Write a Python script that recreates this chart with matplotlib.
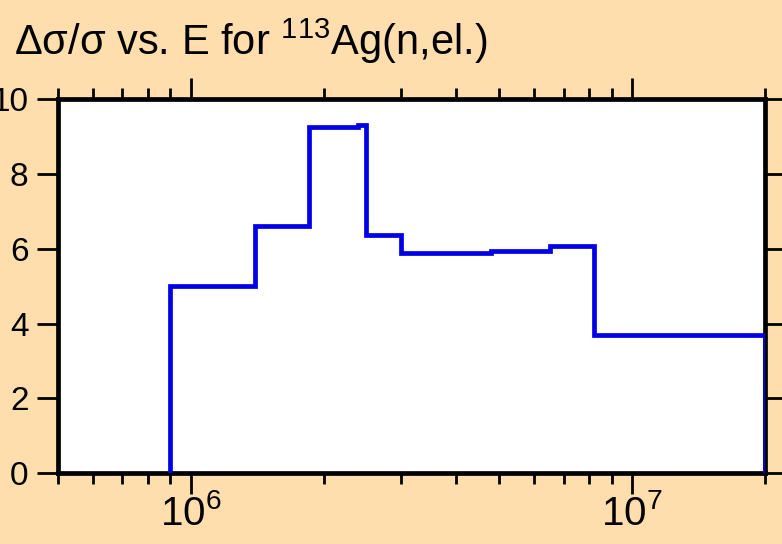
import numpy as np
import matplotlib
matplotlib.use("Agg")
import matplotlib.pyplot as plt
from matplotlib.ticker import LogLocator, FixedLocator, NullFormatter

plt.rcParams.update({
    'font.family': ['Liberation Sans', 'DejaVu Sans'],
    'mathtext.fontset': 'custom',
    'mathtext.rm': 'Liberation Sans',
    'mathtext.it': 'Liberation Sans:italic',
    'mathtext.default': 'regular',
})

# group boundaries (eV) and relative uncertainty (%)
energy_edges = [9.0e5, 1.4e6, 1.85e6, 2.4e6, 2.5e6, 3.0e6, 4.8e6, 6.5e6, 8.2e6, 2.0e7]
rel_unc = [5.0, 6.62, 9.26, 9.30, 6.36, 5.89, 5.95, 6.08, 3.69]
y_ticks = [0, 2, 4, 6, 8, 10]

BG = '#FFDEAD'

fig = plt.figure(figsize=(7.82, 5.44), dpi=100, facecolor=BG)
ax = fig.add_axes([0.0738, 0.130, 0.9045, 0.688])
ax.set_facecolor('white')

ax.stairs(rel_unc, energy_edges, baseline=0, fill=False,
          color='#0000E6', linewidth=3.4, zorder=3)

ax.set_xscale('log')
ax.set_xlim(5e5, 2e7)
ax.set_ylim(0, 10)

ax.xaxis.set_major_locator(FixedLocator([1e6, 1e7]))
ax.xaxis.set_minor_locator(LogLocator(base=10, subs=np.arange(2, 10)))
ax.xaxis.set_minor_formatter(NullFormatter())
ax.set_yticks(y_ticks)

for s in ax.spines.values():
    s.set_linewidth(3.4)

ax.tick_params(axis='both', which='both', direction='out', top=True, right=True,
               width=2)
ax.tick_params(axis='x', which='major', length=15, pad=0, labelsize=29)
ax.tick_params(axis='x', which='minor', length=8)
ax.tick_params(axis='y', which='major', length=15, pad=6, labelsize=24)

fig.text(0.018, 0.899, r'Δσ/σ vs. E for $^{113}$Ag(n,el.)', fontsize=30,
         va='baseline', ha='left')

fig.savefig('out.png', dpi=100, facecolor=BG)
